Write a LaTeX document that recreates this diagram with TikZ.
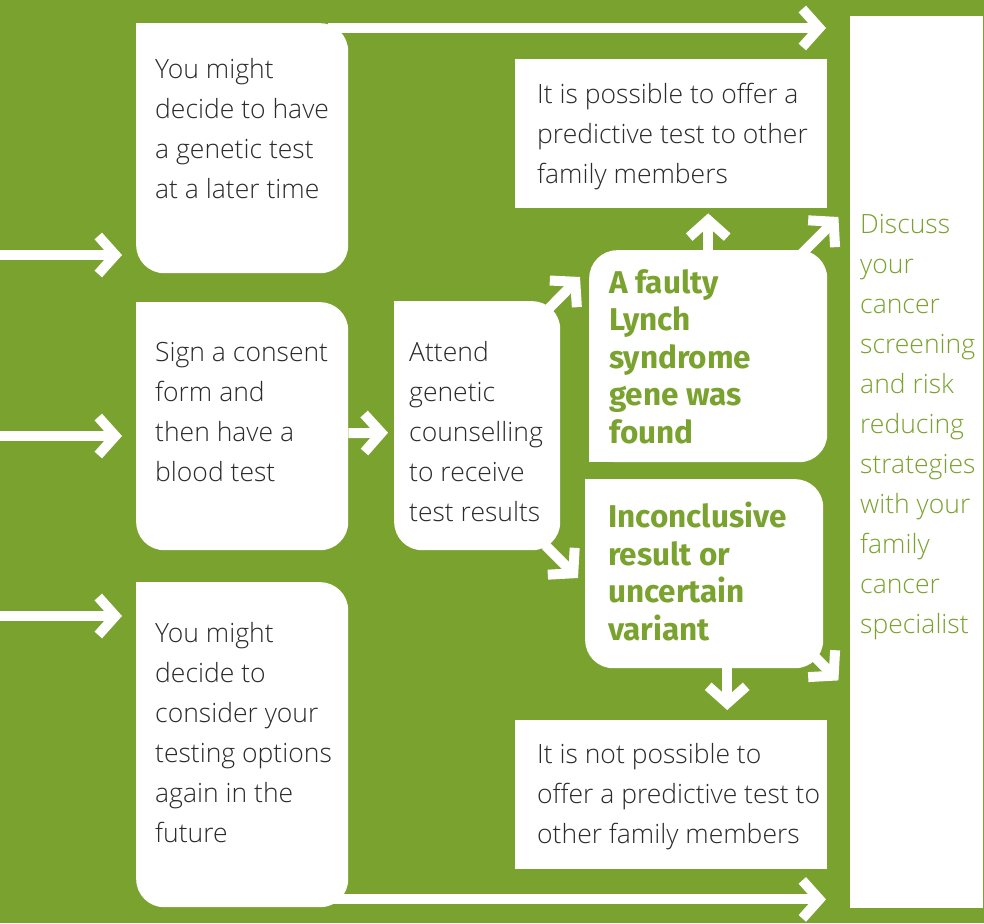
\documentclass[tikz,border=0pt]{standalone}
\usepackage{fontspec}
\usetikzlibrary{positioning,calc,arrows.meta}
\IfFontExistsTF{Open Sans Light}{\setmainfont{Open Sans Light}}{\setmainfont{Open Sans}}
\newfontfamily\headfont{Fira Sans}
\definecolor{lgreen}{RGB}{122,162,47}
\definecolor{ltext}{RGB}{43,43,43}

\begin{document}
\begin{tikzpicture}[x=1pt,y=-1pt,
    box/.style={fill=white,rounded corners=28pt,inner sep=0pt,anchor=north west},
    flat/.style={fill=white,inner sep=0pt,anchor=north west},
    txt/.style={anchor=base west,align=left,inner sep=0pt,text=ltext,
      font=\fontsize{26.5}{40}\selectfont},
    res/.style={txt,text=lgreen,font=\headfont\bfseries\fontsize{31.5}{37.5}\selectfont},
    arr/.style={white,line width=10pt,-{Straight Barb[length=17pt,width=38pt]}}
  ]

  \useasboundingbox (0,0) rectangle (984,923);
  \fill[lgreen] (0,0) rectangle (984,923);

  % the boxes on the left
  \node[box,minimum width=212pt,minimum height=250pt] (later) at (136,23) {};
  \node[box,minimum width=212pt,minimum height=248pt] (sign) at (136,302) {};
  \node[box,minimum width=212pt,minimum height=325pt] (future) at (136,582) {};
  % the results
  \node[box,minimum width=166pt,minimum height=249pt] (attend) at (394,301) {};
  \node[box,minimum width=238pt,minimum height=212pt] (found) at (589,250) {};
  \node[box,minimum width=238pt,minimum height=189pt] (unsure) at (585,479) {};
  % the sharp corners
  \foreach \n in {later,sign,future,attend,unsure}
    \fill[white] (\n.north west) rectangle ++(30,30);
  \fill[white] (found.south west) rectangle ++(30,-30);
  % the plain boxes
  \node[flat,minimum width=312pt,minimum height=149pt] (offer) at (515,59) {};
  \node[flat,minimum width=312pt,minimum height=149pt] (nooffer) at (515,720) {};
  \node[flat,minimum width=133pt,minimum height=892pt] (discuss) at (850,16) {};

  % the texts (placed at the last baseline)
  \node[txt] (t-later) at (155,198) {You might\\decide to have\\a genetic test\\at a later time};
  \node[txt] (t-sign) at (155,481) {Sign a consent\\form and\\then have a\\blood test};
  \node[txt] (t-future) at (155,842) {You might\\decide to\\consider your\\testing options\\again in the\\future};
  \node[txt] (t-attend) at (409,521) {Attend\\genetic\\counselling\\to receive\\test results};
  \node[res] (t-found) at (609,443) {A faulty\\Lynch\\syndrome\\gene was\\found};
  \node[res] (t-unsure) at (608,640) {Inconclusive\\result or\\uncertain\\variant};
  \node[txt] (t-offer) at (537,183) {It is possible to offer a\\predictive test to other\\family members};
  \node[txt] (t-nooffer) at (537,843) {It is not possible to\\offer a predictive test to\\other family members};
  \node[txt,text=lgreen] (t-discuss) at (860,633) {Discuss\\your\\cancer\\screening\\and risk\\reducing\\strategies\\with your\\family\\cancer\\specialist};

  % the arrows coming in
  \foreach \y/\n in {255/later,436/sign,616/future} {
    \coordinate (in-\n) at (0,\y);
    \draw[arr,shorten >=14pt] (in-\n) -- (in-\n -| \n.west);
  }

  % the long arrows
  \coordinate (top) at ($(later.north east)+(-20,5)$);
  \coordinate (bot) at ($(future.south east)+(-20,-8)$);
  \draw[arr,shorten >=24pt] (top) -- (top -| discuss.west);
  \draw[arr,shorten >=24pt] (bot) -- (bot -| discuss.west);

  % the short arrows
  \draw[arr,shorten >=6pt] ([yshift=-7pt]sign.east) -- ([yshift=-7pt]attend.west);
  \coordinate (a1) at ($(attend.north east)+(-13,9)$);
  \coordinate (a1e) at ($(found.north west)+(-9,27)$);
  \draw[arr] (a1) -- (a1e);
  \coordinate (a2) at ($(attend.south east)+(-15,-5)$);
  \coordinate (a2e) at ($(unsure.north west)+(-7,99)$);
  \draw[arr] (a2) -- (a2e);
  \draw[arr,shorten >=5pt] (found.north) -- (found.north |- offer.south);
  \coordinate (f1) at ($(found.north east)+(-32,10)$);
  \coordinate (f1e) at ($(found.north east)+(11,-33)$);
  \draw[arr] (f1) -- (f1e);
  \coordinate (u1) at ([xshift=23pt]unsure.south);
  \draw[arr,shorten >=10pt] (u1) -- (u1 |- nooffer.north);
  \coordinate (u2) at ($(unsure.south east)+(-18,-21)$);
  \coordinate (u2e) at ($(unsure.south east)+(15,12)$);
  \draw[arr] (u2) -- (u2e);
\end{tikzpicture}
\end{document}
